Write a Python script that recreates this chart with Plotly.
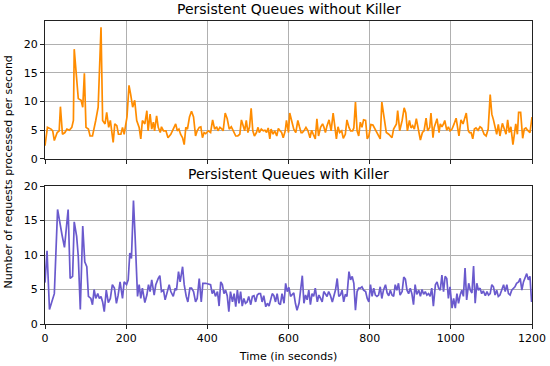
import plotly.graph_objects as go
from plotly.subplots import make_subplots

# --- Data ---
t_no_killer = [0, 6, 15, 19, 23, 30, 35, 38, 43, 49, 54, 60, 66, 70, 72, 76, 82, 89, 93, 97,
               101, 107, 111, 117, 121, 125, 131, 138, 142, 148, 152, 157, 161, 164, 168, 172,
               177, 181, 187, 191, 195, 202, 207, 211, 216, 221, 226, 232, 236, 240, 246, 251,
               254, 259, 263, 267, 270, 275, 279, 284, 287, 292, 298, 303, 310, 316, 322, 326,
               330, 334, 339, 343, 347, 351, 356, 361, 366, 371, 375, 380, 384, 388, 392, 396,
               402, 408, 413, 418, 423, 426, 431, 436, 439, 444, 449, 454, 459, 464, 470, 475,
               480, 484, 488, 492, 496, 500, 504, 508, 512, 516, 521, 525, 528, 533, 538, 542,
               546, 550, 554, 557, 562, 566, 571, 575, 579, 583, 587, 592, 595, 600, 603, 608,
               613, 618, 623, 627, 631, 634, 638, 643, 648, 653, 657, 661, 666, 670, 674, 679,
               684, 687, 691, 695, 700, 705, 710, 715, 718, 722, 726, 731, 735, 740, 744, 749,
               753, 758, 761, 765, 769, 773, 777, 781, 785, 790, 794, 798, 803, 808, 813, 818,
               822, 826, 830, 836, 841, 847, 851, 855, 859, 866, 869, 874, 880, 885, 889, 893,
               898, 902, 906, 910, 915, 920, 925, 930, 934, 939, 943, 948, 951, 956, 959, 966,
               971, 974, 978, 982, 985, 990, 994, 998, 1003, 1008, 1013, 1020, 1025, 1030, 1034,
               1038, 1043, 1046, 1050, 1054, 1058, 1062, 1067, 1072, 1076, 1082, 1087, 1092,
               1097, 1101, 1105, 1109, 1113, 1117, 1121, 1127, 1131, 1136, 1140, 1144, 1148,
               1153, 1156, 1160, 1164, 1167, 1172, 1177, 1181, 1185, 1189, 1195, 1200]
v_no_killer = [2.3, 5.5, 5.2, 4.9, 3.2, 4.6, 4.9, 9.1, 4.3, 4.6, 5.2, 5.0, 5.5, 6.7, 19.1, 15.4,
               10.5, 10.2, 9.0, 14.9, 5.5, 5.2, 4.0, 4.0, 5.2, 6.7, 9.0, 22.9, 6.7, 6.1, 8.1,
               5.5, 6.7, 5.2, 2.9, 6.1, 5.8, 4.3, 4.3, 5.5, 4.3, 7.3, 12.8, 11.3, 9.0, 10.2,
               6.7, 5.5, 3.5, 6.7, 6.1, 8.4, 4.9, 7.8, 5.2, 6.4, 4.9, 7.5, 5.5, 4.6, 5.6, 4.9,
               4.9, 3.7, 4.3, 5.2, 6.1, 4.9, 5.2, 4.3, 3.7, 2.5, 5.5, 5.2, 7.3, 8.3, 7.3, 4.0,
               4.9, 5.5, 5.6, 3.7, 4.6, 4.4, 4.9, 4.6, 6.8, 5.2, 5.6, 4.9, 5.5, 5.2, 4.9, 8.0,
               7.0, 5.2, 5.6, 4.9, 4.0, 4.0, 4.3, 6.8, 5.6, 4.9, 6.7, 4.6, 5.6, 8.8, 4.9, 4.0,
               4.6, 5.5, 4.6, 5.2, 4.9, 5.0, 4.6, 5.4, 3.5, 5.2, 4.3, 4.9, 4.0, 5.3, 4.9, 4.6,
               3.7, 4.9, 6.7, 4.6, 8.0, 6.7, 5.2, 4.6, 6.7, 5.6, 4.6, 4.6, 4.9, 5.5, 4.9, 3.7,
               5.0, 4.3, 3.5, 7.0, 4.0, 5.5, 6.1, 5.6, 4.6, 5.8, 6.8, 4.9, 8.0, 5.2, 3.5, 5.6,
               4.6, 4.9, 3.6, 4.3, 6.8, 5.5, 4.9, 4.9, 5.4, 9.9, 4.9, 4.0, 6.4, 5.5, 6.8, 6.7,
               3.5, 4.0, 6.0, 5.9, 5.2, 4.6, 4.0, 3.5, 9.9, 6.7, 4.6, 4.3, 3.9, 3.7, 5.2, 6.1,
               8.4, 4.9, 6.7, 8.9, 8.0, 4.9, 6.7, 5.4, 5.8, 5.2, 7.0, 5.2, 3.3, 4.6, 4.9, 7.1,
               4.9, 5.5, 8.0, 3.7, 5.5, 7.0, 4.6, 6.1, 5.6, 6.1, 6.7, 5.0, 5.6, 4.9, 5.2, 6.1,
               7.1, 4.0, 6.8, 6.1, 7.1, 8.0, 4.9, 4.6, 4.6, 3.5, 5.2, 5.4, 5.0, 5.6, 5.4, 4.3,
               4.0, 5.2, 11.2, 7.8, 6.8, 5.6, 4.3, 6.0, 4.0, 6.2, 5.2, 4.3, 6.8, 4.6, 5.6, 2.5,
               4.0, 6.1, 4.3, 8.1, 8.1, 3.6, 5.2, 5.4, 5.0, 4.6, 7.3]

t_killer = [0, 5, 11, 16, 23, 31, 38, 42, 48, 54, 57, 62, 68, 72, 78, 82, 87, 93, 98, 103, 107,
            113, 117, 121, 125, 130, 134, 138, 142, 146, 151, 156, 161, 166, 171, 176, 180, 185,
            191, 195, 201, 205, 209, 213, 218, 222, 228, 232, 236, 240, 246, 251, 255, 259, 263,
            269, 273, 279, 283, 287, 292, 296, 302, 306, 310, 316, 321, 324, 329, 333, 339, 343,
            348, 352, 357, 361, 366, 371, 375, 380, 385, 389, 396, 404, 408, 412, 416, 420, 425,
            429, 433, 437, 441, 445, 449, 453, 457, 462, 466, 470, 474, 478, 482, 486, 490, 494,
            498, 502, 507, 511, 515, 519, 523, 527, 531, 535, 539, 544, 548, 552, 556, 560, 564,
            568, 572, 576, 580, 584, 589, 593, 597, 601, 605, 609, 613, 617, 621, 626, 630, 634,
            638, 642, 646, 650, 654, 658, 662, 666, 671, 675, 679, 683, 687, 691, 695, 699, 703,
            708, 712, 716, 720, 724, 728, 732, 736, 740, 744, 749, 753, 757, 761, 765, 769, 773,
            777, 781, 785, 790, 794, 798, 802, 806, 810, 814, 818, 822, 826, 830, 834, 839, 843,
            847, 851, 855, 859, 863, 867, 871, 875, 880, 884, 888, 892, 896, 900, 904, 908, 912,
            916, 921, 925, 929, 933, 937, 941, 945, 949, 953, 957, 962, 966, 970, 974, 978, 982,
            986, 990, 994, 998, 1003, 1007, 1011, 1015, 1019, 1023, 1027, 1031, 1035, 1039,
            1044, 1048, 1052, 1056, 1060, 1064, 1068, 1072, 1076, 1080, 1085, 1089, 1093, 1097,
            1101, 1105, 1109, 1113, 1117, 1121, 1126, 1130, 1134, 1138, 1142, 1146, 1150, 1154,
            1158, 1162, 1167, 1171, 1175, 1179, 1183, 1187, 1191, 1195, 1199]
v_killer = [6.0, 10.6, 2.1, 3.2, 4.4, 16.6, 13.9, 12.9, 11.1, 15.1, 16.6, 6.6, 6.9, 14.8, 12.7,
            9.8, 2.1, 14.2, 9.0, 8.3, 4.0, 3.7, 2.8, 5.0, 3.7, 4.4, 3.7, 4.0, 3.2, 1.8, 4.9,
            3.1, 3.7, 5.7, 5.2, 3.0, 4.1, 6.1, 3.7, 6.1, 5.7, 6.4, 10.3, 9.5, 17.9, 12.7, 4.0,
            5.7, 3.7, 5.2, 3.1, 4.2, 5.7, 4.7, 6.4, 4.2, 5.7, 6.6, 7.0, 4.7, 4.9, 3.5, 4.7,
            5.7, 4.7, 4.0, 5.2, 4.9, 7.6, 6.1, 8.3, 5.7, 4.0, 3.2, 5.2, 5.2, 4.7, 3.2, 3.7,
            6.6, 3.2, 5.9, 5.9, 5.7, 5.7, 4.4, 4.9, 4.0, 4.7, 2.6, 6.1, 5.7, 4.4, 4.9, 4.1,
            1.8, 4.7, 3.2, 4.4, 2.5, 4.9, 3.0, 4.7, 2.6, 3.7, 3.0, 3.2, 4.0, 2.8, 4.0, 4.1,
            3.2, 4.2, 4.4, 4.4, 3.2, 4.1, 2.5, 3.0, 2.6, 3.6, 4.4, 4.1, 3.2, 4.4, 3.0, 2.8,
            4.4, 3.0, 5.9, 4.7, 5.3, 4.0, 4.3, 4.5, 3.0, 2.0, 3.0, 4.9, 7.0, 3.0, 4.2, 3.5,
            4.9, 2.8, 4.4, 4.0, 5.2, 3.2, 4.2, 3.7, 3.2, 4.7, 4.4, 4.0, 4.7, 4.2, 3.2, 4.0,
            5.0, 6.6, 4.0, 4.2, 4.9, 3.2, 4.3, 4.0, 7.6, 6.4, 6.9, 5.9, 2.0, 4.7, 5.2, 5.2,
            5.4, 4.9, 4.7, 3.7, 3.2, 5.7, 4.0, 5.2, 4.2, 4.0, 4.2, 5.4, 3.7, 4.9, 5.7, 4.5,
            4.1, 4.9, 4.2, 4.0, 5.7, 4.9, 5.9, 4.2, 4.7, 6.8, 6.5, 4.9, 4.4, 5.2, 4.4, 2.8,
            5.7, 4.3, 4.9, 4.0, 5.0, 4.3, 4.7, 4.2, 4.4, 4.0, 5.2, 2.6, 5.7, 6.1, 5.2, 4.9,
            7.1, 4.7, 6.9, 6.6, 3.7, 5.4, 2.3, 3.7, 2.3, 4.4, 3.0, 4.2, 4.9, 4.0, 8.1, 3.5,
            5.9, 4.9, 4.5, 8.4, 3.0, 5.9, 4.9, 5.2, 4.4, 4.8, 4.1, 4.7, 4.2, 4.4, 5.7, 5.4,
            4.2, 4.9, 4.0, 4.2, 5.2, 5.7, 4.7, 5.7, 4.4, 4.2, 4.9, 5.2, 5.4, 5.9, 6.1, 6.6,
            4.9, 6.1, 6.6, 7.3, 6.4, 6.9, 3.2]

titles = ["Persistent Queues without Killer", "Persistent Queues with Killer"]
x_ticks = [0, 200, 400, 600, 800, 1000, 1200]
y_ticks = [0, 5, 10, 15, 20]

FONT = "DejaVu Sans"
GRID = "#b0b0b0"
AXIS = "#222222"

fig = make_subplots(rows=2, cols=1, shared_xaxes=False, vertical_spacing=0.09)

fig.add_trace(go.Scatter(x=t_no_killer, y=v_no_killer, mode="lines",
                         line=dict(color="#ff8c00", width=1.7), showlegend=False), row=1, col=1)
fig.add_trace(go.Scatter(x=t_killer, y=v_killer, mode="lines",
                         line=dict(color="#6a5acd", width=1.7), showlegend=False), row=2, col=1)

axis_common = dict(showline=True, linecolor=AXIS, linewidth=1.2, mirror=True,
                   ticks="outside", ticklen=4, tickwidth=1, tickcolor=AXIS,
                   showgrid=True, gridcolor=GRID, gridwidth=1.2, zeroline=False,
                   automargin=False,
                   tickfont=dict(family=FONT, size=11, color="#000"))

fig.update_xaxes(range=[0, 1200], tickvals=x_ticks, **axis_common)
fig.update_xaxes(showticklabels=False, row=1, col=1)
fig.update_xaxes(title=dict(text="Time (in seconds)", font=dict(family=FONT, size=11, color="#000"),
                            standoff=8), row=2, col=1)
fig.update_yaxes(tickvals=y_ticks, **axis_common)
fig.update_yaxes(range=[0, 24], row=1, col=1)
fig.update_yaxes(range=[0, 20], row=2, col=1)

fig.update_layout(
    width=550, height=366,
    margin=dict(l=45, r=18, t=21, b=42),
    paper_bgcolor="white", plot_bgcolor="white",
    font=dict(family=FONT, size=11, color="#000"),
    xaxis=dict(domain=[0, 1]), xaxis2=dict(domain=[0, 1]),
    yaxis=dict(domain=[0.5446, 1.0]), yaxis2=dict(domain=[0.0, 0.4554]),
)

fig.add_annotation(text=titles[0], xref="paper", yref="paper", x=0.5, y=1.0, yshift=2,
                   xanchor="center", yanchor="bottom", showarrow=False,
                   font=dict(family=FONT, size=14, color="#000"))
fig.add_annotation(text=titles[1], xref="paper", yref="paper", x=0.5, y=0.4554, yshift=2,
                   xanchor="center", yanchor="bottom", showarrow=False,
                   font=dict(family=FONT, size=14, color="#000"))
fig.add_annotation(text="Number of requests processed per second", xref="paper", yref="paper",
                   x=0, xshift=-37, y=0.5, textangle=-90, xanchor="center", yanchor="middle",
                   showarrow=False, font=dict(family=FONT, size=11, color="#000"))

fig.write_html("out.html", config={"displayModeBar": False},
               post_script="document.body.style.margin='0px';document.body.style.overflow='hidden';")
